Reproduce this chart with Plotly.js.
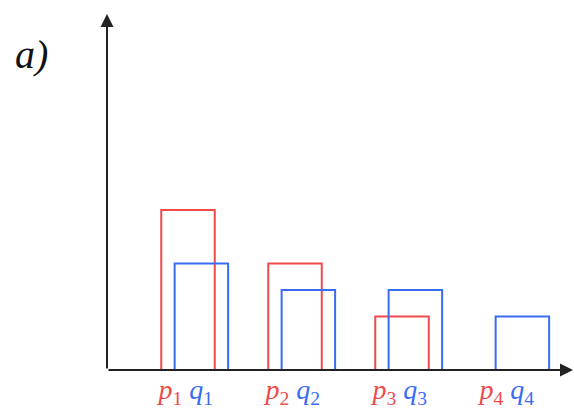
<!DOCTYPE html>
<html>
<head>
<meta charset="utf-8">
<script src="https://cdn.plot.ly/plotly-3.0.1.min.js"></script>
<style>html,body{margin:0;padding:0;background:#fff;}#chart{width:574px;height:409px;}</style>
</head>
<body>
<div id="chart"></div>
<script>
// Data
const categories = [1, 2, 3, 4];
const pValues = [0.5, 0.333, 0.167, 0];
const qValues = [0.333, 0.25, 0.25, 0.167];
const pNames = ['p', 'p', 'p', 'p'];
const qNames = ['q', 'q', 'q', 'q'];
const subscripts = ['1', '2', '3', '4'];
const panelLabel = 'a)';

const RED = '#f04a4a';
const BLUE = '#3a6cf2';
const SERIF = 'Liberation Serif';

const tickText = categories.map((c, i) =>
  '<span style="color:' + RED + '"><i>' + pNames[i] + '</i><sub>' + subscripts[i] + '</sub></span> ' +
  '<span style="color:' + BLUE + '"><i>' + qNames[i] + '</i><sub>' + subscripts[i] + '</sub></span>');

const traces = [
  {
    type: 'bar', x: categories, y: pValues, width: 0.5, offset: -0.25,
    marker: {color: 'rgba(0,0,0,0)', line: {color: RED, width: pValues.map(v => v > 0 ? 2 : 0)}},
    hoverinfo: 'skip'
  },
  {
    type: 'bar', x: categories, y: qValues, width: 0.5, offset: -0.125,
    marker: {color: 'rgba(0,0,0,0)', line: {color: BLUE, width: qValues.map(v => v > 0 ? 2 : 0)}},
    hoverinfo: 'skip'
  }
];

const layout = {
  width: 574, height: 409,
  margin: {l: 107, r: 1, t: 14, b: 39},
  paper_bgcolor: '#fff', plot_bgcolor: '#fff',
  showlegend: false,
  barmode: 'overlay',
  font: {family: SERIF, size: 28},
  xaxis: {
    range: [0.243, 4.598], showgrid: false, zeroline: false, showline: false,
    tickvals: categories.map(c => c - 0.02), ticktext: tickText, ticks: '',
    ticklabelstandoff: 0,
    tickfont: {family: SERIF, size: 28}
  },
  yaxis: {
    range: [0, 1.1125], showgrid: false, zeroline: false, showline: false,
    showticklabels: false, ticks: ''
  },
  annotations: [
    {xref: 'paper', yref: 'paper', x: 0, y: 1, axref: 'pixel', ayref: 'pixel', ax: 0, ay: 356,
     text: '', showarrow: true, arrowhead: 2, arrowsize: 1.3, arrowwidth: 2, arrowcolor: '#222'},
    {xref: 'paper', yref: 'paper', x: 1, y: 0, axref: 'pixel', ayref: 'pixel', ax: -466, ay: 0,
     text: '', showarrow: true, arrowhead: 2, arrowsize: 1.3, arrowwidth: 2, arrowcolor: '#222'},
    {xref: 'paper', yref: 'paper', x: -0.163, y: 0.885, xanchor: 'center', yanchor: 'middle',
     text: '<i>' + panelLabel + '</i>', showarrow: false,
     font: {family: SERIF, size: 40, color: '#111'}}
  ]
};

Plotly.newPlot('chart', traces, layout, {displayModeBar: false, staticPlot: true});
</script>
</body>
</html>
